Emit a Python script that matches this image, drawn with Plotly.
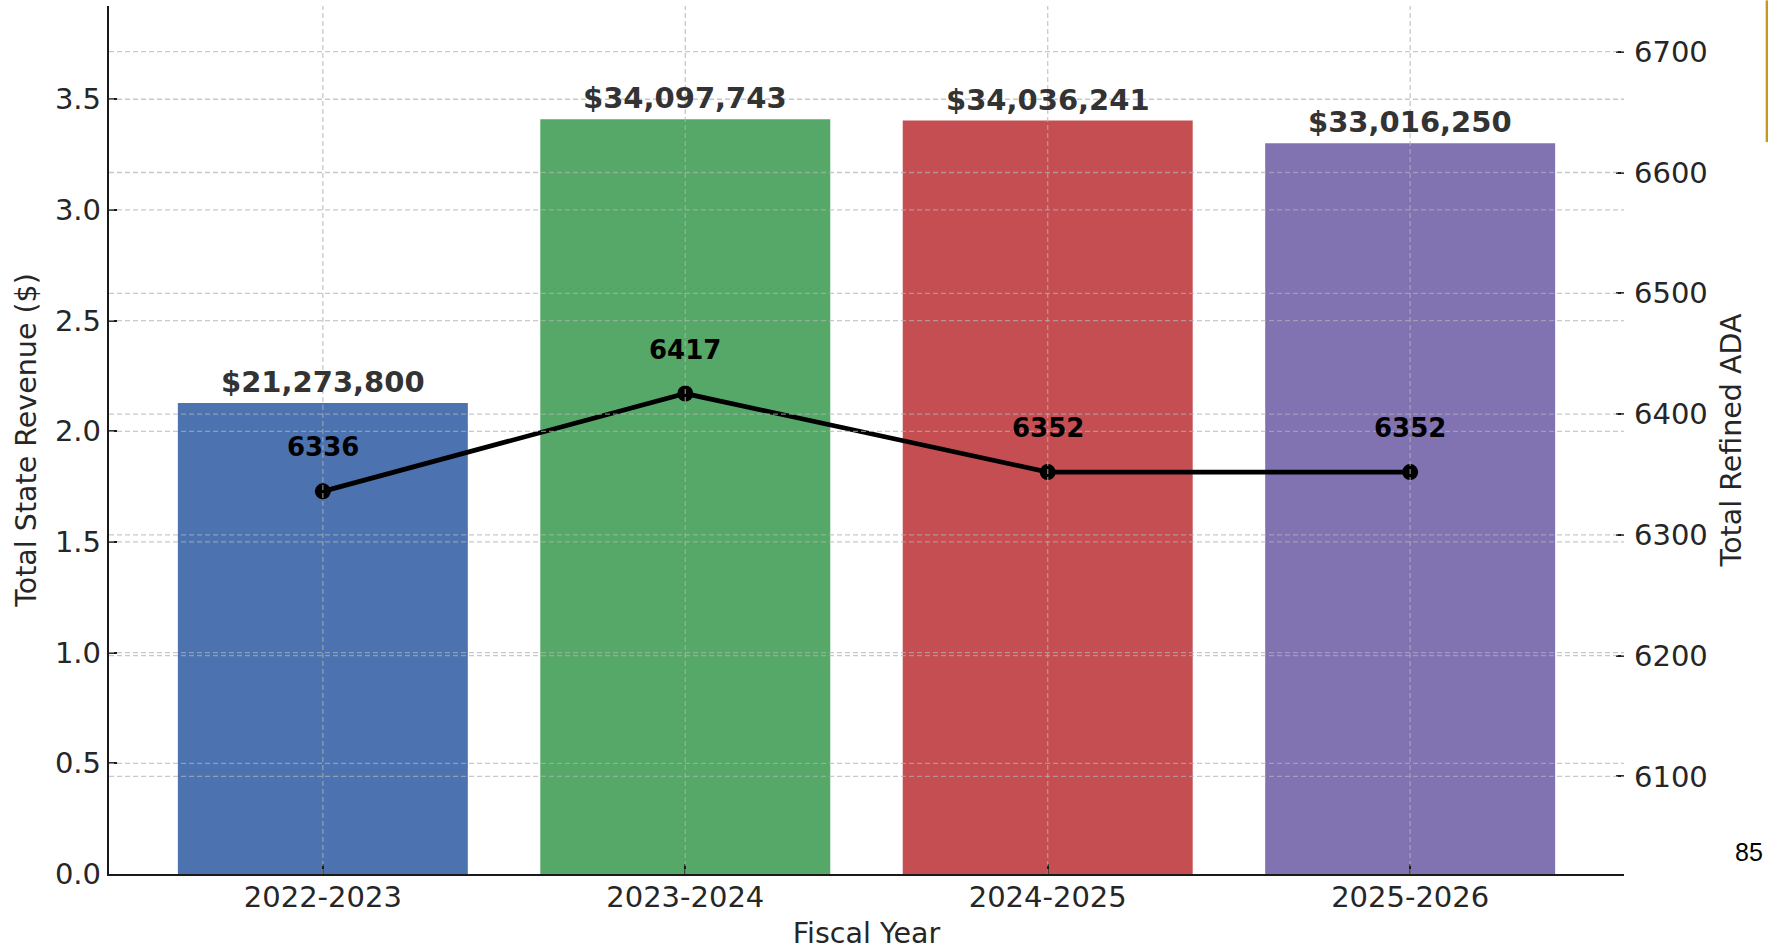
import plotly.graph_objects as go

# ---- data ----
fiscal_years = ["2022-2023", "2023-2024", "2024-2025", "2025-2026"]
state_revenue = [21273800, 34097743, 34036241, 33016250]
refined_ada = [6336, 6417, 6352, 6352]
bar_colors = ["#4C72B0", "#55A868", "#C44E52", "#8172B2"]
rev_ticks = [0.0, 0.5, 1.0, 1.5, 2.0, 2.5, 3.0, 3.5]
ada_ticks = [6100, 6200, 6300, 6400, 6500, 6600, 6700]

SCALE = 1e7
rev_scaled = [v / SCALE for v in state_revenue]
rev_range = [0, max(state_revenue) * 1.15 / SCALE]
ada_range = [min(refined_ada) * 0.95, max(refined_ada) * 1.05]

FONT = "DejaVu Sans"
TXT = "#262626"
GRID = "rgba(176,176,176,0.7)"

fig = go.Figure()
fig.add_trace(go.Bar(
    x=fiscal_years, y=rev_scaled, marker=dict(color=bar_colors, line=dict(width=0)),
    width=0.8, yaxis="y", showlegend=False, hoverinfo="skip"))
fig.add_trace(go.Scatter(
    x=fiscal_years, y=refined_ada, yaxis="y2", mode="lines+markers",
    line=dict(color="black", width=4.8), marker=dict(color="black", size=16),
    showlegend=False, hoverinfo="skip"))

shapes = []
# grid lines drawn above the bars (as in the reference)
for t in rev_ticks[1:]:
    shapes.append(dict(type="line", xref="paper", x0=0, x1=1, yref="y", y0=t, y1=t,
                       line=dict(color=GRID, width=1.3, dash="5px,3px"), layer="above"))
for t in ada_ticks:
    shapes.append(dict(type="line", xref="paper", x0=0, x1=1, yref="y2", y0=t, y1=t,
                       line=dict(color=GRID, width=1.3, dash="5px,3px"), layer="above"))
for c in fiscal_years:
    shapes.append(dict(type="line", xref="x", x0=c, x1=c, yref="paper", y0=0, y1=1,
                       line=dict(color=GRID, width=1.3, dash="5px,3px"), layer="above"))
# gold page-edge rule
shapes.append(dict(type="line", xref="paper", x0=1.0945, x1=1.0945, yref="paper",
                   y0=0.8432, y1=1.0065, line=dict(color="#C49A1E", width=3), layer="above"))

annotations = []
for c, v, s in zip(fiscal_years, state_revenue, rev_scaled):
    annotations.append(dict(x=c, y=s, xref="x", yref="y", text=f"${v:,}",
                            showarrow=False, yanchor="bottom", yshift=2,
                            font=dict(family=FONT, size=29, color="#333333", weight="bold")))
for c, v in zip(fiscal_years, refined_ada):
    annotations.append(dict(x=c, y=v, xref="x", yref="y2", text=str(v),
                            showarrow=False, yanchor="middle", yshift=44,
                            font=dict(family=FONT, size=26, color="black", weight="bold")))
annotations.append(dict(x=1.0828, y=0.0251, xref="paper", yref="paper", text="85",
                        showarrow=False, xanchor="center", yanchor="middle",
                        font=dict(family="Liberation Sans", size=25, color="black")))

fig.update_layout(
    width=1768, height=951, autosize=False,
    margin=dict(l=109, r=144, t=6, b=77, pad=0),
    paper_bgcolor="white", plot_bgcolor="white",
    font=dict(family=FONT, color=TXT, size=29),
    bargap=0.2,
    xaxis=dict(
        type="category", range=[-0.59, 3.59],
        title=dict(text="Fiscal Year", font=dict(size=28.5, color=TXT), standoff=10),
        showgrid=False, showline=True, linecolor="#1a1a1a", linewidth=2.4,
        ticks="inside", ticklen=10, tickwidth=2, tickcolor="#1a1a1a",
        ticklabelstandoff=-4,
        tickfont=dict(size=29, color=TXT), zeroline=False),
    yaxis=dict(
        range=rev_range, tickvals=rev_ticks, tickformat=".1f",
        title=dict(text="Total State Revenue ($)", font=dict(size=28.5, color=TXT), standoff=10),
        showgrid=False, showline=True, linecolor="#1a1a1a", linewidth=2.4,
        ticks="inside", ticklen=8, tickwidth=2, tickcolor="#1a1a1a",
        tickfont=dict(size=29, color=TXT), zeroline=False),
    yaxis2=dict(
        overlaying="y", side="right", range=ada_range, tickvals=ada_ticks,
        title=dict(text="Total Refined ADA", font=dict(size=28.5, color=TXT), standoff=14),
        showgrid=False, showline=False,
        ticks="inside", ticklen=8, tickwidth=2, tickcolor="#1a1a1a",
        ticklabelstandoff=9,
        tickfont=dict(size=29, color=TXT), zeroline=False),
    shapes=shapes, annotations=annotations,
)

fig.write_html("out.html", config={"displayModeBar": False},
               post_script="document.body.style.margin='0';document.body.style.overflow='hidden';")
